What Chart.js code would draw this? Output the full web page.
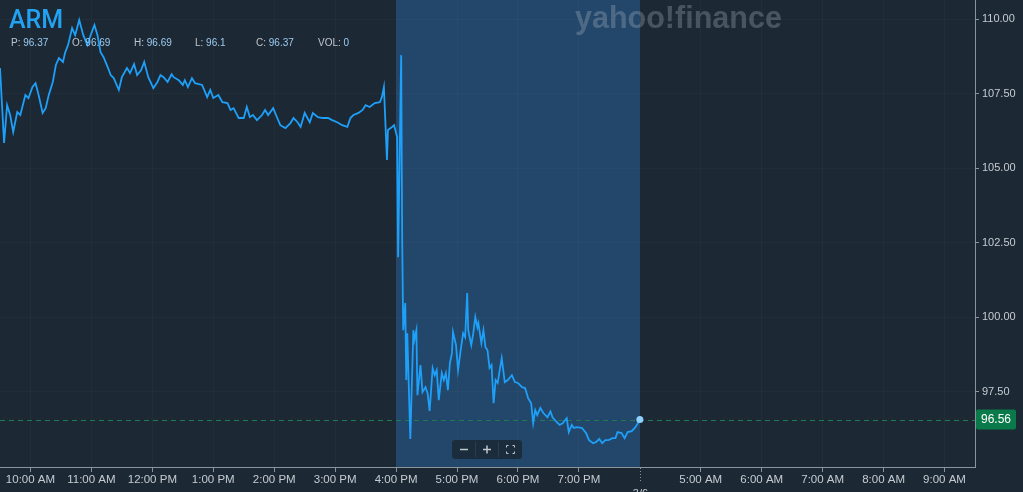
<!DOCTYPE html>
<html>
<head>
<meta charset="utf-8">
<script src="https://cdn.jsdelivr.net/npm/chart.js@4.4.1/dist/chart.umd.min.js"></script>
<style>
  html, body { margin: 0; padding: 0; background: #1c2935; overflow: hidden; }
  #wrap { width: 1023px; height: 492px; position: relative; }
</style>
</head>
<body>
<div id="wrap"><canvas id="canvas" width="1023" height="492"></canvas></div>
<script>
// minutes since the 9:30 AM open; the axis skips 8 PM -> 4 AM
var regMinutes = [0, 4, 7, 10, 13, 17, 20, 25, 28, 32, 35, 38, 42, 45, 48, 52, 55, 58, 62, 64,
  67, 71, 74, 78, 82, 86, 90, 93, 96, 99, 102, 106, 109, 112, 117, 120, 125, 128, 132, 135,
  139, 142, 146, 151, 155, 158, 161, 165, 169, 171, 176, 180, 182, 185, 189, 192, 199, 204, 207, 210,
  215, 219, 224, 227, 230, 235, 240, 243, 246, 249, 253, 258, 261, 264, 269, 273, 276, 281, 286, 289,
  293, 296, 300, 305, 308, 313, 318, 323, 327, 332, 337, 342, 345, 348, 353, 357, 360, 364, 369, 374,
  376, 378, 381, 382, 386, 388, 391];
var regPrices = [108.36, 105.84, 107.11, 106.78, 106.21, 106.88, 106.78, 107.45, 107.35, 107.72, 107.85, 107.45, 106.85, 107.01, 107.45, 107.89, 108.46, 108.69, 108.56, 108.86,
  109.13, 109.70, 109.46, 109.97, 109.46, 109.13, 109.53, 109.80, 109.46, 108.89, 108.72, 108.39, 108.12, 108.02, 107.62, 108.05, 108.36, 108.19, 108.49, 108.12,
  108.29, 108.56, 108.05, 107.68, 107.89, 108.12, 108.05, 107.89, 108.15, 108.05, 107.95, 107.79, 107.95, 107.72, 108.02, 107.85, 107.79, 107.38, 107.62, 107.35,
  107.45, 107.21, 107.18, 106.95, 107.01, 106.68, 106.68, 107.05, 106.71, 106.78, 106.61, 106.78, 106.95, 106.78, 107.01, 106.68, 106.44, 106.34, 106.51, 106.68,
  106.54, 106.38, 106.85, 106.54, 106.85, 106.71, 106.68, 106.68, 106.61, 106.54, 106.44, 106.38, 106.68, 106.78, 106.85, 106.95, 107.11, 107.05, 107.18, 107.21,
  107.38, 107.72, 105.27, 106.28, 106.38, 106.44, 106.04];

var postMinutes = [392, 395, 396, 397, 399, 400, 401, 404, 407, 408, 410, 411, 414, 416, 419, 421, 423, 426, 428, 430,
  432, 435, 437, 439, 441, 443, 445, 446, 449, 451, 454, 456, 458, 460, 461, 464, 466, 468, 470, 471,
  474, 476, 478, 480, 482, 484, 486, 488, 490, 494, 497, 500, 504, 507, 510, 514, 517, 520, 523, 525,
  527, 529, 532, 535, 539, 542, 544, 548, 551, 554, 558, 560, 563, 565, 568, 573, 577, 580, 584, 587,
  590, 593, 596, 599, 603, 606, 608, 612, 615, 618, 622, 625, 627, 630];
var postPrices = [102.01, 108.79, 102.58, 99.56, 100.47, 97.89, 99.46, 95.91, 99.56, 99.23, 99.56, 97.38, 98.39, 97.48, 97.65, 97.45, 96.85, 98.29, 98.05, 98.22,
  97.21, 98.12, 97.89, 98.12, 97.55, 98.46, 98.79, 99.50, 99.06, 98.22, 98.99, 99.46, 99.33, 100.81, 99.56, 99.06, 99.46, 100.00, 99.66, 99.80,
  99.13, 99.56, 98.99, 98.89, 98.29, 98.39, 97.11, 97.89, 97.79, 98.62, 97.82, 97.89, 98.05, 97.82, 97.79, 97.65, 97.62, 97.28, 97.11, 96.44,
  96.88, 96.71, 96.95, 96.78, 96.64, 96.83, 96.64, 96.48, 96.38, 96.44, 96.61, 96.14, 96.38, 96.28, 96.31, 96.28, 96.11, 95.87, 95.77, 95.81,
  95.91, 95.77, 95.87, 95.87, 95.94, 95.94, 96.14, 96.11, 95.94, 96.14, 96.17, 96.28, 96.38, 96.56];

var tickMinutes = [30, 90, 150, 210, 270, 330, 390, 450, 510, 570, 630, 690, 750, 810, 870, 930];
var tickLabels = ['10:00 AM', '11:00 AM', '12:00 PM', '1:00 PM', '2:00 PM', '3:00 PM', '4:00 PM', '5:00 PM',
  '6:00 PM', '7:00 PM', '', '5:00 AM', '6:00 AM', '7:00 AM', '8:00 AM', '9:00 AM'];
var priceTicks = [97.5, 100, 102.5, 105, 107.5, 110];

var symbol = 'ARM';
var lastPrice = 96.56;
var quoteKeys = ['P:', 'O:', 'H:', 'L:', 'C:', 'VOL:'];
var quoteVals = ['96.37', '96.69', '96.69', '96.1', '96.37', '0'];
var quoteX = [11, 72, 134, 195, 256, 318];
var postStart = 390, postEnd = 630;

var BG = '#1c2935';
var SHADE = '#23476a';
var LINE = '#1e9ff8';
var AXIS = '#8b939c';
var LABEL = '#c6cbd1';
var FONT = '"Helvetica Neue", Helvetica, Arial, "Liberation Sans", sans-serif';

var allPrices = regPrices.concat(postPrices);
var points = regMinutes.concat(postMinutes).map(function (m, i) {
  return { x: m, y: allPrices[i] };
});

var decor = {
  id: 'decor',
  beforeDraw: function (chart) {
    var ctx = chart.ctx, a = chart.chartArea, x = chart.scales.x;
    ctx.save();
    ctx.fillStyle = BG;
    ctx.fillRect(0, 0, chart.width, chart.height);
    var x0 = x.getPixelForValue(postStart), x1 = x.getPixelForValue(postEnd);
    ctx.fillStyle = SHADE;
    ctx.fillRect(x0, a.top, x1 - x0, a.bottom - a.top);
    ctx.restore();
  },
  beforeDatasetsDraw: function (chart) {
    var ctx = chart.ctx, a = chart.chartArea, y = chart.scales.y;
    ctx.save();
    // watermark
    var wm = 'yahoo!finance';
    var size = 28;
    ctx.font = 'bold ' + size + 'px ' + FONT;
    size = size * 207 / ctx.measureText(wm).width;
    ctx.font = 'bold ' + size + 'px ' + FONT;
    ctx.fillStyle = 'rgba(175,185,195,0.3)';
    ctx.textBaseline = 'alphabetic';
    ctx.textAlign = 'left';
    ctx.fillText(wm, 575, 28);
    // last price line
    var py = Math.round(y.getPixelForValue(lastPrice)) + 0.5;
    ctx.strokeStyle = '#1f7a50';
    ctx.lineWidth = 1;
    ctx.setLineDash([5, 4]);
    ctx.beginPath();
    ctx.moveTo(a.left, py);
    ctx.lineTo(a.right, py);
    ctx.stroke();
    ctx.restore();
  },
  afterDraw: function (chart) {
    var ctx = chart.ctx, a = chart.chartArea, x = chart.scales.x, y = chart.scales.y;
    ctx.save();
    // header
    ctx.textAlign = 'left';
    ctx.textBaseline = 'alphabetic';
    ctx.fillStyle = '#22a2f2';
    ctx.font = '500 25px Roboto, ' + FONT;
    ctx.fillText(symbol, 9, 28);
    ctx.font = '10px ' + FONT;
    quoteKeys.forEach(function (k, i) {
      ctx.fillStyle = '#c0c5cc';
      ctx.fillText(k, quoteX[i], 46);
      var w = ctx.measureText(k + ' ').width;
      ctx.fillStyle = '#9ccbf0';
      ctx.fillText(quoteVals[i], quoteX[i] + w, 46);
    });
    // last price tag
    var py = y.getPixelForValue(lastPrice);
    ctx.fillStyle = '#0b7a4a';
    ctx.beginPath();
    ctx.roundRect(a.right + 1, py - 10, 40, 20, 2);
    ctx.fill();
    ctx.fillStyle = '#ffffff';
    ctx.font = '12px ' + FONT;
    ctx.textAlign = 'center';
    ctx.textBaseline = 'middle';
    ctx.fillText(lastPrice.toFixed(2), a.right + 21, py + 0.5);
    // dotted tick at the session break
    var bx = Math.round(x.getPixelForValue(postEnd)) + 0.5;
    ctx.strokeStyle = AXIS;
    ctx.lineWidth = 1;
    ctx.setLineDash([1, 2]);
    ctx.beginPath();
    ctx.moveTo(bx, a.bottom + 1);
    ctx.lineTo(bx, a.bottom + 16);
    ctx.stroke();
    ctx.setLineDash([]);
    ctx.fillStyle = LABEL;
    ctx.font = '11px ' + FONT;
    ctx.textBaseline = 'top';
    ctx.fillText('3/6', bx, 488);
    // zoom controls
    ctx.fillStyle = 'rgba(27,43,58,0.92)';
    ctx.beginPath();
    ctx.roundRect(452, 440, 70, 19, 3);
    ctx.fill();
    ctx.strokeStyle = 'rgba(255,255,255,0.08)';
    ctx.beginPath();
    ctx.moveTo(475.5, 442); ctx.lineTo(475.5, 457);
    ctx.moveTo(498.5, 442); ctx.lineTo(498.5, 457);
    ctx.stroke();
    ctx.strokeStyle = '#c0c6cc';
    ctx.lineWidth = 1.5;
    ctx.beginPath();
    ctx.moveTo(460, 449.5); ctx.lineTo(468, 449.5);
    ctx.moveTo(483, 449.5); ctx.lineTo(491, 449.5);
    ctx.moveTo(487, 445.5); ctx.lineTo(487, 453.5);
    ctx.stroke();
    ctx.lineWidth = 1;
    ctx.beginPath();
    var fx = 506.5, fy = 445.5;
    ctx.moveTo(fx, fy + 2); ctx.lineTo(fx, fy); ctx.lineTo(fx + 2, fy);
    ctx.moveTo(fx + 6, fy); ctx.lineTo(fx + 8, fy); ctx.lineTo(fx + 8, fy + 2);
    ctx.moveTo(fx + 8, fy + 6); ctx.lineTo(fx + 8, fy + 8); ctx.lineTo(fx + 6, fy + 8);
    ctx.moveTo(fx + 2, fy + 8); ctx.lineTo(fx, fy + 8); ctx.lineTo(fx, fy + 6);
    ctx.stroke();
    ctx.restore();
  }
};

var ctx = document.getElementById('canvas').getContext('2d');
new Chart(ctx, {
  type: 'line',
  data: {
    datasets: [{
      data: points,
      borderColor: LINE,
      borderWidth: 1.8,
      tension: 0,
      fill: false,
      clip: false,
      pointRadius: function (c) { return c.dataIndex === points.length - 1 ? 3.5 : 0; },
      pointBackgroundColor: '#8fd0ff',
      pointBorderWidth: 0
    }]
  },
  options: {
    responsive: false,
    animation: false,
    devicePixelRatio: 1,
    layout: { padding: 0, autoPadding: false },
    plugins: { legend: { display: false }, tooltip: { enabled: false } },
    scales: {
      x: {
        type: 'linear',
        min: 0,
        max: 960,
        afterBuildTicks: function (s) { s.ticks = tickMinutes.map(function (v) { return { value: v }; }); },
        afterFit: function (s) { s.height = 25; s.paddingLeft = 0; s.paddingRight = 0; },
        ticks: {
          color: LABEL,
          font: { family: FONT, size: 11.5 },
          padding: 1,
          maxRotation: 0,
          autoSkip: false,
          callback: function (v, i) { return tickLabels[i]; }
        },
        grid: {
          color: 'rgba(255,255,255,0.025)',
          tickColor: function (c) { return c.index === 10 ? 'rgba(0,0,0,0)' : AXIS; },
          tickLength: 5
        },
        border: { color: AXIS, width: 1 }
      },
      y: {
        position: 'right',
        min: 94.97,
        max: 110.64,
        afterBuildTicks: function (s) { s.ticks = priceTicks.map(function (v) { return { value: v }; }); },
        afterFit: function (s) { s.width = 48; s.paddingTop = 0; s.paddingBottom = 0; },
        ticks: {
          color: LABEL,
          font: { family: FONT, size: 11 },
          padding: 3,
          callback: function (v) { return v.toFixed(2); }
        },
        grid: {
          color: 'rgba(255,255,255,0.025)',
          tickColor: AXIS,
          tickLength: 4
        },
        border: { color: AXIS, width: 1 }
      }
    }
  },
  plugins: [decor]
});
</script>
</body>
</html>
